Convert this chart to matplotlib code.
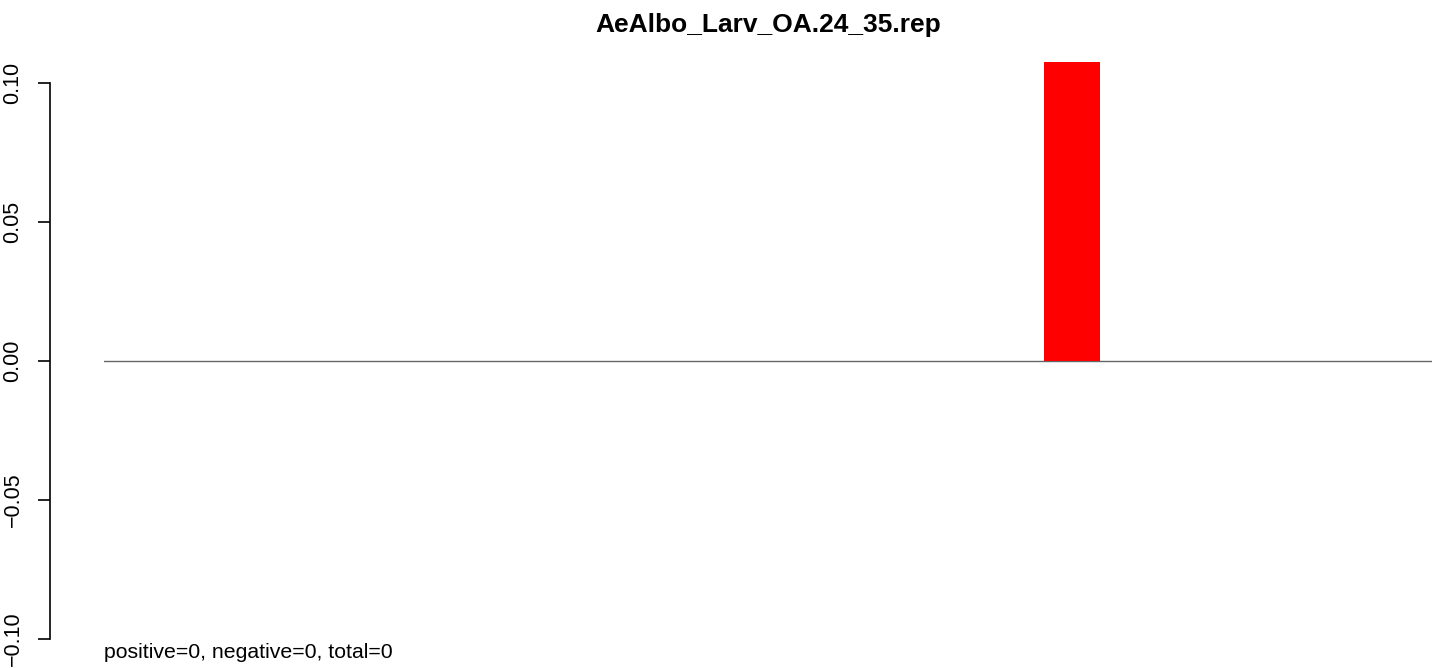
import numpy as np
import matplotlib.pyplot as plt

plt.rcParams['font.family'] = ['Liberation Sans', 'DejaVu Sans']

title = 'AeAlbo_Larv_OA.24_35.rep'
# one bar per category, only one non-zero
values = [0, 0, 0, 0, 0, 0, 0, 0, 0, 0, 0, 0, 0, 0, 0.1075, 0, 0, 0, 0]
colors = ['red'] * len(values)
yticks = [-0.10, -0.05, 0.00, 0.05, 0.10]
ytick_labels = ['\u22120.10', '\u22120.05', '0.00', '0.05', '0.10']
footer = 'positive=0, negative=0, total=0'

W, H = 1439, 668
fig = plt.figure(figsize=(W / 100, H / 100), dpi=100)
ax = fig.add_axes([104 / W, (H - 650) / H, (1432 - 104) / W, 600 / H])

x = 0.2 + 1.2 * np.arange(len(values))
ax.bar(x, values, width=1.0, align='edge', color=colors, edgecolor='none', zorder=2)
ax.axhline(0, color='#666666', linewidth=1.0, zorder=1)

ax.set_xlim(0.21, 0.21 + 1328 / 56)
ax.set_ylim(-(650 - 361) / 2780, (361 - 50) / 2780)

for s in ['top', 'right', 'bottom']:
    ax.spines[s].set_visible(False)
ax.spines['left'].set_position(('outward', 54 * 0.72))
ax.spines['left'].set_bounds(-0.10, 0.10)
ax.spines['left'].set_linewidth(1.2)
ax.set_xticks([])
ax.set_yticks(yticks)
ax.set_yticklabels(ytick_labels, rotation=90, va='center', fontsize=15.5)
ax.tick_params(axis='y', length=8.6, width=1.2, pad=10.5)

fig.text(768 / W, 1 - 32 / H, title, ha='center', va='baseline',
         fontsize=19, fontweight='bold')
fig.text(104 / W, 1 - 658 / H, footer, ha='left', va='baseline', fontsize=15.3)

fig.savefig('out.png', dpi=100)
